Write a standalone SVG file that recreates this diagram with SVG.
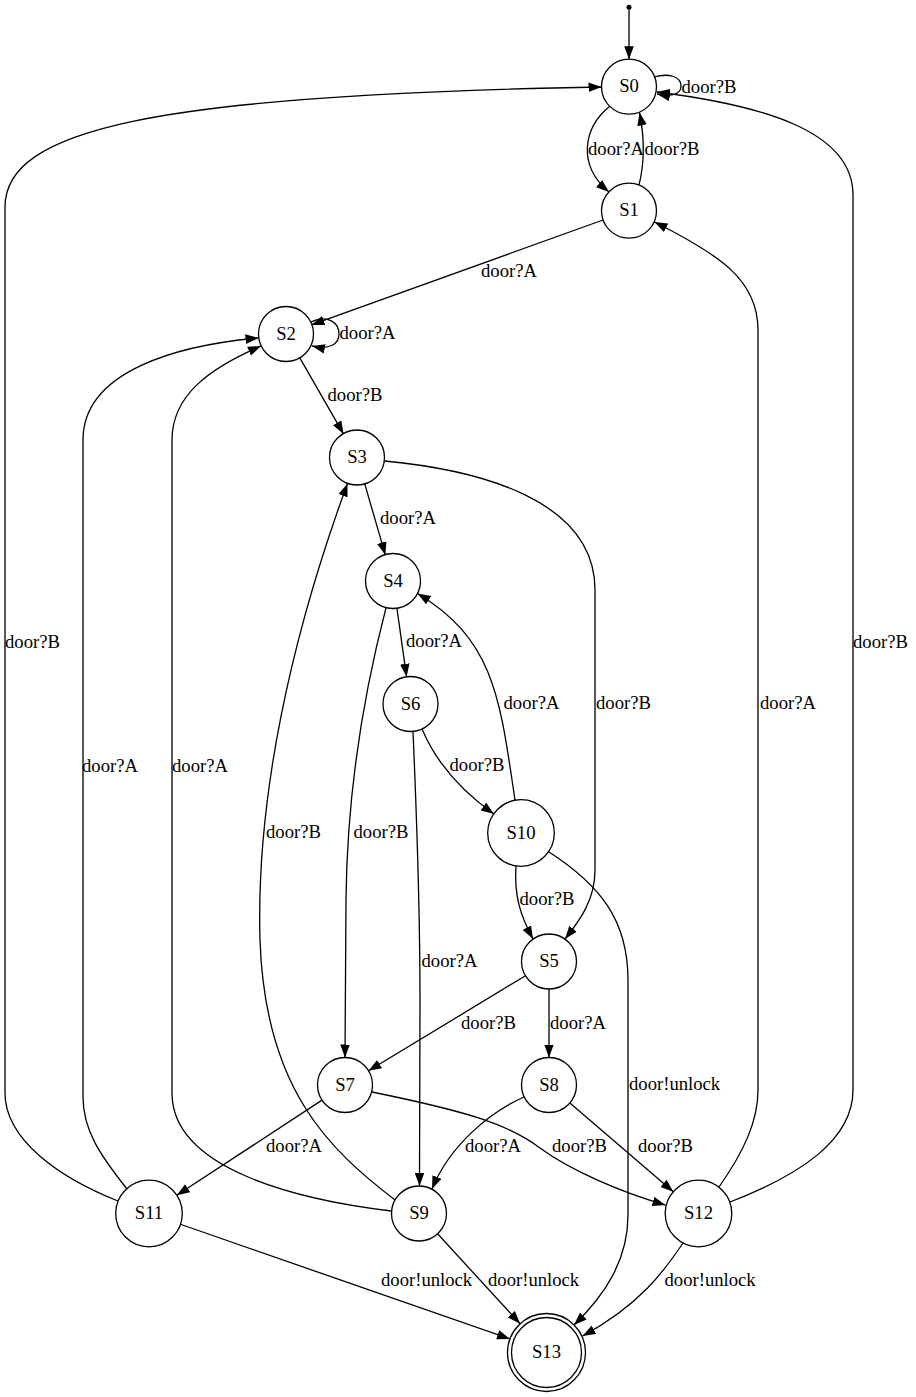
<svg xmlns="http://www.w3.org/2000/svg" width="916" height="1397" viewBox="0 0 916 1397">
<defs>
<marker id="ah" markerWidth="14" markerHeight="10" refX="13" refY="5" orient="auto" markerUnits="userSpaceOnUse">
<path d="M0,0.2 L13,5 L0,9.8 z" fill="#000"/>
</marker>
<style>
.e{fill:none;stroke:#000;stroke-width:1.3;marker-end:url(#ah)}
.n{fill:#fff;stroke:#000;stroke-width:1.3}
text{font-family:"Liberation Serif","Times New Roman",serif;font-size:18.67px;fill:#000}
.c{text-anchor:middle}
</style>
</defs>
<rect width="916" height="1397" fill="#fff"/>
<g id="connectors">
<circle cx="629" cy="7.3" r="2.5" fill="#000"/>
<path class="e" d="M629,9.5 L629,59.2"/>
<g><path class="e" d="M654,77 C668,73 681,76 681,86 C681,94 673,97 657,94"/><text x="681.5" y="92.5">door?B</text></g>
<g><path class="e" d="M610,106 C583,128 577,165 609,192"/><text x="588" y="154.5">door?A</text></g>
<g><path class="e" d="M639,185 C644,165 645,140 639.5,112.5"/><text x="644.5" y="154.5">door?B</text></g>
<g><path class="e" d="M603,220 L311.4,324.9"/><text x="481" y="276.5">door?A</text></g>
<g><path class="e" d="M311,322 C328,314 339,323 339,334 C339,344 330,350 312,346"/><text x="339.5" y="339">door?A</text></g>
<g><path class="e" d="M299.5,357.4 L343.6,434.1"/><text x="327.5" y="401">door?B</text></g>
<g><path class="e" d="M364.6,483.4 L385.4,555.1"/><text x="380" y="523.5">door?A</text></g>
<g><path class="e" d="M384.5,461 C480,470 595,500 595,590 L595,870 C595,900 580,920 565,939"/><text x="596" y="709">door?B</text></g>
<g><path class="e" d="M396.9,608.2 L406.6,676.8"/><text x="406" y="647">door?A</text></g>
<g><path class="e" d="M386,607.8 C362,700 347,800 346,900 L345,1057.5"/><text x="353.5" y="837.5">door?B</text></g>
<g><path class="e" d="M422,729 C436,762 460,790 494,814"/><text x="449.5" y="771">door?B</text></g>
<g><path class="e" d="M413,731.5 C416,800 420,900 420,1000 L419.5,1186"/><text x="421.5" y="966.5">door?A</text></g>
<g><path class="e" d="M515,800 C500,700 495,640 417.5,593.5"/><text x="503.5" y="709">door?A</text></g>
<g><path class="e" d="M516,866 C514,895 520,915 533,939"/><text x="519.5" y="905">door?B</text></g>
<g><path class="e" d="M549,852 C600,885 628,920 628,980 L628,1215 C628,1260 605,1295 574,1325"/><text x="629" y="1089.5">door!unlock</text></g>
<g><path class="e" d="M525.5,975.7 L368.5,1070.8"/><text x="461" y="1028.5">door?B</text></g>
<g><path class="e" d="M549,989 L549,1057.5"/><text x="550" y="1028.5">door?A</text></g>
<g><path class="e" d="M524,1097 C490,1112 450,1145 432,1189"/><text x="465" y="1151.5">door?A</text></g>
<g><path class="e" d="M569.9,1102.9 L673.3,1191.8"/><text x="638" y="1151.5">door?B</text></g>
<g><path class="e" d="M372,1092 C470,1112 510,1125 540,1148 C570,1170 620,1192 665.5,1205"/><text x="552" y="1151.5">door?B</text></g>
<g><path class="e" d="M322,1100.1 L176.8,1195.3"/><text x="266" y="1151.5">door?A</text></g>
<g><path class="e" d="M395,1200 C330,1150 265,1090 260,940 C256,800 290,640 347.5,483.5"/><text x="266" y="837.5">door?B</text></g>
<g><path class="e" d="M391.5,1211 C300,1200 172,1170 172,1093 L172,440 C172,395 210,368 261,346"/><text x="172" y="772">door?A</text></g>
<g><path class="e" d="M127,1189 C100,1155 83,1130 83,1097 L83,440 C83,370 180,345 258.5,338"/><text x="82" y="772">door?A</text></g>
<g><path class="e" d="M118,1201 C60,1178 5,1140 5,1093 L5,207 C5,130 150,95 601.5,87"/><text x="5" y="648">door?B</text></g>
<g><path class="e" d="M179.7,1224 L510,1339"/><text x="381" y="1285.5">door!unlock</text></g>
<g><path class="e" d="M437.6,1233.8 L520.1,1323.8"/><text x="488" y="1285.5">door!unlock</text></g>
<g><path class="e" d="M683,1243 C665,1270 640,1305 582.5,1336"/><text x="664.5" y="1285.5">door!unlock</text></g>
<g><path class="e" d="M719,1187 C745,1150 758,1120 758,1090 L758,330 C758,280 720,255 654.5,222"/><text x="760" y="708.5">door?A</text></g>
<g><path class="e" d="M730,1202 C800,1175 853,1140 853,1090 L853,195 C853,130 760,105 657,92"/><text x="853" y="648">door?B</text></g>
</g>
<g id="S0"><circle class="n" cx="629" cy="86.7" r="27.5"/><text class="c" x="629" y="92.3">S0</text></g>
<g id="S1"><circle class="n" cx="629" cy="210.7" r="27.5"/><text class="c" x="629" y="216.3">S1</text></g>
<g id="S2"><circle class="n" cx="286" cy="334" r="27.5"/><text class="c" x="286" y="339.6">S2</text></g>
<g id="S3"><circle class="n" cx="357" cy="457.5" r="27.5"/><text class="c" x="357" y="463.1">S3</text></g>
<g id="S4"><circle class="n" cx="393" cy="581" r="27.5"/><text class="c" x="393" y="586.6">S4</text></g>
<g id="S6"><circle class="n" cx="410.5" cy="704" r="27.5"/><text class="c" x="410.5" y="709.6">S6</text></g>
<g id="S10"><circle class="n" cx="521" cy="833" r="33.3"/><text class="c" x="521" y="838.6">S10</text></g>
<g id="S5"><circle class="n" cx="549" cy="961.5" r="27.5"/><text class="c" x="549" y="967.1">S5</text></g>
<g id="S7"><circle class="n" cx="345" cy="1085" r="27.5"/><text class="c" x="345" y="1090.6">S7</text></g>
<g id="S8"><circle class="n" cx="549" cy="1085" r="27.5"/><text class="c" x="549" y="1090.6">S8</text></g>
<g id="S11"><circle class="n" cx="149" cy="1213.5" r="33.3"/><text class="c" x="149" y="1219.1">S11</text></g>
<g id="S9"><circle class="n" cx="419" cy="1213.5" r="27.5"/><text class="c" x="419" y="1219.1">S9</text></g>
<g id="S12"><circle class="n" cx="698.5" cy="1213.5" r="33.3"/><text class="c" x="698.5" y="1219.1">S12</text></g>
<g id="S13"><circle class="n" cx="546.5" cy="1352.5" r="39"/><circle class="n" cx="546.5" cy="1352.5" r="35"/><text class="c" x="546.5" y="1358.1">S13</text></g>
</svg>
